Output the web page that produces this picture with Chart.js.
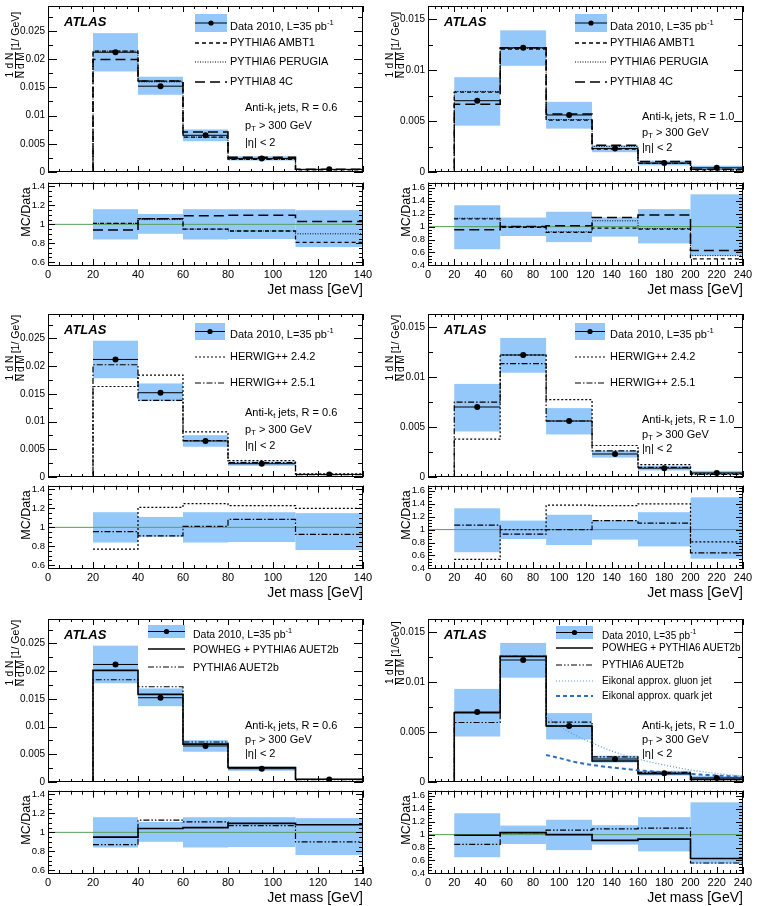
<!DOCTYPE html>
<html>
<head>
<meta charset="utf-8">
<script src="https://cdn.jsdelivr.net/npm/chart.js@4.4.1/dist/chart.umd.min.js"></script>
<style>
  body { margin: 0; background: #fff; width: 759px; height: 906px; position: relative; overflow: hidden;
         font-family: "Liberation Sans", Arial, Helvetica, sans-serif; color: #000; }
  canvas { position: absolute; }
  .t { position: absolute; white-space: nowrap; }
  .atlas { font-weight: bold; font-style: italic; font-size: 13px; }
  .ytit { position: absolute; width: 110px; height: 24px; display: flex; align-items: center; justify-content: center;
          font-size: 10.5px; transform: rotate(-90deg); white-space: nowrap; }
  .frac { display: inline-flex; flex-direction: column; align-items: center; line-height: 10px; margin-right: 2px; font-size: 10px; }
  .den { border-top: 1px solid #000; }
  .rtit { position: absolute; width: 80px; height: 14px; text-align: center; font-size: 12.5px; line-height: 14px;
          transform: rotate(-90deg); white-space: nowrap; }
  .xtit { position: absolute; width: 200px; text-align: right; font-size: 14px; line-height: 16px; }
  sub { font-size: 70%; vertical-align: -2px; }
  sup { font-size: 70%; vertical-align: 5px; }
</style>
</head>
<body>
<script>
// ---- binning ----
const edges06 = [20, 40, 60, 80, 110, 140];
const edges10 = [20, 55, 90, 125, 160, 200, 240];

// ---- data 2010 (1/N dN/dM) and relative uncertainty band ----
const data06 = [0.0212, 0.0152, 0.0065, 0.0024, 0.00047];
const errUp06 = [0.16, 0.11, 0.16, 0.16, 0.15];
const errDn06 = [0.16, 0.10, 0.16, 0.155, 0.24];
const data10 = [0.0070, 0.0122, 0.0056, 0.0023, 0.00088, 0.00041];
const errUp10 = [0.33, 0.14, 0.23, 0.145, 0.27, 0.50];
const errDn10 = [0.35, 0.145, 0.24, 0.155, 0.26, 0.45];

// ---- MC / Data ratios ----
const ambt1_06 = [1.01, 1.06, 0.95, 0.93, 0.81];
const perugia_06 = [1.01, 1.05, 0.95, 0.93, 0.90];
const py8_06 = [0.94, 1.06, 1.09, 1.095, 1.03];
const ambt1_10 = [1.12, 0.99, 0.91, 0.975, 0.96, 0.50];
const perugia_10 = [1.13, 0.995, 0.92, 1.09, 0.97, 0.55];
const py8_10 = [0.95, 1.0, 1.015, 1.14, 1.18, 0.63];
const hw242_06 = [0.77, 1.21, 1.25, 1.23, 1.20];
const hw251_06 = [0.955, 0.91, 1.01, 1.085, 0.925];
const hw242_10 = [0.54, 1.0, 1.38, 1.37, 1.40, 0.81];
const hw251_10 = [1.07, 0.93, 1.0, 1.14, 1.10, 0.64];
const powheg_06 = [0.95, 1.04, 1.05, 1.095, 1.08];
const auet2b_06 = [0.87, 1.13, 1.11, 1.07, 0.90];
const powheg_10 = [0.99, 1.03, 1.0, 0.91, 0.93, 0.63];
const auet2b_10 = [0.85, 1.03, 1.07, 1.09, 1.10, 0.56];

// ---- eikonal approximation curves (R = 1.0) ----
const eikMass = [90, 100, 112, 125, 140, 160, 180, 200, 220, 240];
const gluonVal = [0.0066, 0.0056, 0.0047, 0.0039, 0.0031, 0.0023, 0.0017, 0.0012, 0.00085, 0.0006];
const quarkVal = [0.0027, 0.0024, 0.0020, 0.0017, 0.00146, 0.00118, 0.00097, 0.0008, 0.00065, 0.00052];

// ---- tick labels ----
const xTicks06 = [0, 20, 40, 60, 80, 100, 120, 140];
const xTicks10 = [0, 20, 40, 60, 80, 100, 120, 140, 160, 180, 200, 220, 240];
const yTicks06 = [0, 0.005, 0.01, 0.015, 0.02, 0.025];
const yTicks10 = [0, 0.005, 0.01, 0.015];
const rTicks06 = [0.6, 0.8, 1, 1.2, 1.4];
const rTicks10 = [0.4, 0.6, 0.8, 1, 1.2, 1.4, 1.6];

const BAND = 'rgb(148,200,250)';

const R06 = { label: '0.6', edges: edges06, data: data06, up: errUp06, dn: errDn06, xMax: 140, xTicks: xTicks06,
  yMax: 0.0294, yTicks: yTicks06, rMin: 0.56, rMax: 1.44, rTicks: rTicks06 };
const R10 = { label: '1.0', edges: edges10, data: data10, up: errUp10, dn: errDn10, xMax: 240, xTicks: xTicks10,
  yMax: 0.0163, yTicks: yTicks10, rMin: 0.39, rMax: 1.68, rTicks: rTicks10 };

const STY = {
  ambt1: { dash: [4, 3], width: 1.3 },
  perugia: { dash: [1, 1.5], width: 1 },
  py8: { dash: [10, 5], width: 1.5 },
  hw242: { dash: [2, 2], width: 1.2 },
  hw251: { dash: [6, 2, 1.5, 2], width: 1.2 },
  powheg: { dash: [], width: 1.6 },
  auet2b: { dash: [6, 2, 1.5, 2, 1.5, 2], width: 1.2 },
  gluon: { dash: [1, 2], width: 1.2, color: '#5b9bd5' },
  quark: { dash: [4, 3], width: 2, color: '#2a6fbd' }
};

const mainRows = [[5, 173], [313, 478], [618, 783]];
const ratioRows = [[182, 266], [485, 569], [790, 874]];
const colLeft = [48, 428];
const plotW = 315;

const panels = [
  { set: R06, col: 0, row: 0,
    models: [{ label: 'PYTHIA6 AMBT1', ratio: ambt1_06, s: STY.ambt1 },
             { label: 'PYTHIA6 PERUGIA', ratio: perugia_06, s: STY.perugia },
             { label: 'PYTHIA8 4C', ratio: py8_06, s: STY.py8 }],
    legend: { box: 195, w: 32, h: 18, text: 230, rows: [23, 43, 62, 82], size: 11 },
    note: { left: 245, rows: [108, 126, 143] }, unit: '[1/ GeV]' },
  { set: R10, col: 1, row: 0,
    models: [{ label: 'PYTHIA6 AMBT1', ratio: ambt1_10, s: STY.ambt1 },
             { label: 'PYTHIA6 PERUGIA', ratio: perugia_10, s: STY.perugia },
             { label: 'PYTHIA8 4C', ratio: py8_10, s: STY.py8 }],
    legend: { box: 575, w: 32, h: 18, text: 610, rows: [23, 43, 62, 82], size: 11 },
    note: { left: 642, rows: [117, 133, 148] }, unit: '[1/ GeV]' },
  { set: R06, col: 0, row: 1,
    models: [{ label: 'HERWIG++ 2.4.2', ratio: hw242_06, s: STY.hw242 },
             { label: 'HERWIG++ 2.5.1', ratio: hw251_06, s: STY.hw251 }],
    legend: { box: 195, w: 30, h: 17, text: 230, rows: [331, 357, 383], size: 11 },
    note: { left: 245, rows: [413, 430, 446] }, unit: '[1/ GeV]' },
  { set: R10, col: 1, row: 1,
    models: [{ label: 'HERWIG++ 2.4.2', ratio: hw242_10, s: STY.hw242 },
             { label: 'HERWIG++ 2.5.1', ratio: hw251_10, s: STY.hw251 }],
    legend: { box: 575, w: 30, h: 17, text: 610, rows: [331, 357, 383], size: 11 },
    note: { left: 642, rows: [420, 435, 449] }, unit: '[1/ GeV]' },
  { set: R06, col: 0, row: 2,
    models: [{ label: 'POWHEG + PYTHIA6 AUET2b', ratio: powheg_06, s: STY.powheg },
             { label: 'PYTHIA6 AUET2b', ratio: auet2b_06, s: STY.auet2b }],
    legend: { box: 148, w: 37, h: 13, text: 193, rows: [631, 649, 667], size: 10.5 },
    note: { left: 245, rows: [726, 740, 754] }, unit: '[1/ GeV]' },
  { set: R10, col: 1, row: 2,
    models: [{ label: 'POWHEG + PYTHIA6 AUET2b', ratio: powheg_10, s: STY.powheg },
             { label: 'PYTHIA6 AUET2b', ratio: auet2b_10, s: STY.auet2b }],
    curves: [{ label: 'Eikonal approx. gluon jet', x: eikMass, y: gluonVal, s: STY.gluon },
             { label: 'Eikonal approx. quark jet', x: eikMass, y: quarkVal, s: STY.quark }],
    legend: { box: 556, w: 37, h: 13, text: 602, rows: [632, 648, 665, 681, 696], size: 10 },
    note: { left: 642, rows: [726, 740, 754] }, unit: '[1/GeV]' }
];

Chart.defaults.font.family = '"Liberation Sans", Arial, Helvetica, sans-serif';
Chart.defaults.color = '#000';

function steps(min, max, step) {
  const out = [];
  const i0 = Math.ceil(min / step - 1e-9), i1 = Math.floor(max / step + 1e-9);
  for (let i = i0; i <= i1; i++) out.push(i * step);
  return out;
}

function bandPlugin(edges, lo, hi) {
  return {
    id: 'band',
    beforeDatasetsDraw(chart) {
      const { ctx, chartArea: a, scales: { x, y } } = chart;
      ctx.save();
      ctx.beginPath(); ctx.rect(a.left, a.top, a.right - a.left, a.bottom - a.top); ctx.clip();
      ctx.fillStyle = BAND;
      lo.forEach((l, i) => {
        const x0 = x.getPixelForValue(edges[i]), x1 = x.getPixelForValue(edges[i + 1]);
        const y0 = y.getPixelForValue(hi[i]), y1 = y.getPixelForValue(l);
        ctx.fillRect(x0, y0, x1 - x0, y1 - y0);
      });
      ctx.restore();
    }
  };
}

function framePlugin(xMajor, yMajor, xMinor, yMinor, xLen, yLen) {
  return {
    id: 'frame',
    afterDatasetsDraw(chart) {
      const { ctx, chartArea: a, scales: { x, y } } = chart;
      ctx.save();
      ctx.strokeStyle = '#000'; ctx.lineWidth = 1;
      ctx.beginPath();
      const vt = (v, len) => {
        const p = Math.round(x.getPixelForValue(v)) + 0.5;
        ctx.moveTo(p, a.bottom); ctx.lineTo(p, a.bottom - len);
        ctx.moveTo(p, a.top); ctx.lineTo(p, a.top + len);
      };
      const ht = (v, len) => {
        const p = Math.round(y.getPixelForValue(v)) + 0.5;
        ctx.moveTo(a.left, p); ctx.lineTo(a.left + len, p);
        ctx.moveTo(a.right, p); ctx.lineTo(a.right - len, p);
      };
      steps(x.min, x.max, xMinor).forEach(v => vt(v, xLen[1]));
      xMajor.forEach(v => vt(v, xLen[0]));
      steps(y.min, y.max, yMinor).forEach(v => ht(v, yLen[1]));
      yMajor.forEach(v => ht(v, yLen[0]));
      ctx.stroke();
      ctx.strokeRect(Math.round(a.left) + 0.5, Math.round(a.top) + 0.5,
                     Math.round(a.right - a.left) - 1, Math.round(a.bottom - a.top) - 1);
      ctx.restore();
    }
  };
}

function stepPoints(edges, vals, fromZero) {
  const pts = fromZero ? [{ x: 0, y: 0 }] : [];
  vals.forEach((v, i) => pts.push({ x: edges[i], y: v }));
  pts.push({ x: edges[edges.length - 1], y: vals[vals.length - 1] });
  return pts;
}

function xErrPoints(edges, vals) {
  const pts = [];
  vals.forEach((v, i) => pts.push({ x: edges[i], y: v }, { x: edges[i + 1], y: v }, { x: edges[i + 1], y: null }));
  return pts;
}

const fmt = v => String(parseFloat(Number(v).toFixed(4)));

function histDs(pts, s) {
  return { data: pts, showLine: true, stepped: true, pointRadius: 0, borderColor: s.color || '#000',
           borderWidth: s.width, borderDash: s.dash, fill: false };
}

function addCanvas(left, top, w, h) {
  const c = document.createElement('canvas');
  c.width = w; c.height = h;
  c.style.left = left + 'px'; c.style.top = top + 'px';
  c.style.width = w + 'px'; c.style.height = h + 'px';
  document.body.appendChild(c);
  return c;
}

function addText(html, left, cy, size, cls) {
  const d = document.createElement('div');
  d.className = 't' + (cls ? ' ' + cls : '');
  d.style.left = left + 'px';
  d.style.top = (cy - size * 0.6) + 'px';
  d.style.fontSize = size + 'px';
  d.style.lineHeight = (size * 1.2) + 'px';
  d.innerHTML = html;
  document.body.appendChild(d);
  return d;
}

function lineSample(left, cy, w, s) {
  const svg = document.createElementNS('http://www.w3.org/2000/svg', 'svg');
  svg.setAttribute('width', w); svg.setAttribute('height', 6);
  svg.style.position = 'absolute'; svg.style.left = left + 'px'; svg.style.top = (cy - 3) + 'px';
  const ln = document.createElementNS('http://www.w3.org/2000/svg', 'line');
  ln.setAttribute('x1', 0); ln.setAttribute('x2', w); ln.setAttribute('y1', 3); ln.setAttribute('y2', 3);
  ln.setAttribute('stroke', s.color || '#000'); ln.setAttribute('stroke-width', s.width);
  if (s.dash.length) ln.setAttribute('stroke-dasharray', s.dash.join(','));
  svg.appendChild(ln);
  document.body.appendChild(svg);
}

function dataSample(left, cy, w, h) {
  const svg = document.createElementNS('http://www.w3.org/2000/svg', 'svg');
  svg.setAttribute('width', w); svg.setAttribute('height', h);
  svg.style.position = 'absolute'; svg.style.left = left + 'px'; svg.style.top = (cy - h / 2) + 'px';
  svg.innerHTML = '<rect x="0" y="0" width="' + w + '" height="' + h + '" fill="' + BAND + '"/>' +
    '<line x1="0" x2="' + w + '" y1="' + h / 2 + '" y2="' + h / 2 + '" stroke="#000" stroke-width="1"/>' +
    '<circle cx="' + w / 2 + '" cy="' + h / 2 + '" r="2.6" fill="#000"/>';
  document.body.appendChild(svg);
}

const noGrid = { display: false, drawTicks: false };

panels.forEach(p => {
  const S = p.set;
  const left = colLeft[p.col];
  const [mTop, mBot] = mainRows[p.row];
  const [rTop, rBot] = ratioRows[p.row];
  const yW = 48;
  const lo = S.data.map((v, i) => v * (1 - S.dn[i]));
  const hi = S.data.map((v, i) => v * (1 + S.up[i]));
  const rLo = S.dn.map(e => 1 - e);
  const rHi = S.up.map(e => 1 + e);

  // ---- main panel ----
  const mainDs = [
    { data: S.data.map((v, i) => ({ x: (S.edges[i] + S.edges[i + 1]) / 2, y: v })), showLine: false,
      pointRadius: 3, pointBackgroundColor: '#000', pointBorderColor: '#000', pointBorderWidth: 0 },
    { data: xErrPoints(S.edges, S.data), showLine: true, spanGaps: false, pointRadius: 0, borderColor: '#000', borderWidth: 1 }
  ];
  (p.curves || []).forEach(c => {
    mainDs.push({ data: c.x.map((m, i) => ({ x: m, y: c.y[i] })), showLine: true, pointRadius: 0,
      borderColor: c.s.color, borderWidth: c.s.width, borderDash: c.s.dash, cubicInterpolationMode: 'monotone' });
  });
  p.models.forEach(m => mainDs.push(histDs(stepPoints(S.edges, S.data.map((v, i) => v * m.ratio[i]), true), m.s)));

  const padT = 8, padR = 14, padB = 8;
  const mc = addCanvas(left - yW, mTop - padT, yW + plotW + padR, padT + (mBot - mTop) + padB);
  new Chart(mc, {
    type: 'scatter',
    data: { datasets: mainDs },
    options: {
      responsive: false, animation: false, devicePixelRatio: 1, events: [],
      layout: { padding: { top: padT, right: padR, bottom: padB, left: 0 } },
      plugins: { legend: { display: false }, tooltip: { enabled: false } },
      scales: {
        x: { type: 'linear', min: 0, max: S.xMax, display: false },
        y: { type: 'linear', min: 0, max: S.yMax,
             afterBuildTicks: s => { s.ticks = S.yTicks.map(v => ({ value: v })); },
             afterFit: s => { s.width = yW; },
             grid: noGrid, border: { display: false },
             ticks: { font: { size: 10 }, padding: 3, autoSkip: false, callback: v => fmt(v) } }
      }
    },
    plugins: [bandPlugin(S.edges, lo, hi), framePlugin(S.xTicks, S.yTicks, 5, 0.0025, [6, 3], [9, 5])]
  });

  // ---- ratio panel ----
  const ratioDs = p.models.map(m => histDs(stepPoints(S.edges, m.ratio, false), m.s));
  ratioDs.push({ data: [{ x: 0, y: 1 }, { x: S.xMax, y: 1 }], showLine: true, pointRadius: 0,
                 borderColor: '#5a9e5a', borderWidth: 1 });
  const xH = 16;
  const rc = addCanvas(left - yW, rTop - padT, yW + plotW + padR, padT + (rBot - rTop) + xH);
  new Chart(rc, {
    type: 'scatter',
    data: { datasets: ratioDs },
    options: {
      responsive: false, animation: false, devicePixelRatio: 1, events: [],
      layout: { padding: { top: padT, right: padR, bottom: 0, left: 0 } },
      plugins: { legend: { display: false }, tooltip: { enabled: false } },
      scales: {
        x: { type: 'linear', min: 0, max: S.xMax,
             afterBuildTicks: s => { s.ticks = S.xTicks.map(v => ({ value: v })); },
             afterFit: s => { s.height = xH; },
             grid: noGrid, border: { display: false },
             ticks: { font: { size: 11 }, padding: 2, autoSkip: false, maxRotation: 0, callback: v => fmt(v) } },
        y: { type: 'linear', min: S.rMin, max: S.rMax,
             afterBuildTicks: s => { s.ticks = S.rTicks.map(v => ({ value: v })); },
             afterFit: s => { s.width = yW; },
             grid: noGrid, border: { display: false },
             ticks: { font: { size: 9.5 }, padding: 3, autoSkip: false, callback: v => fmt(v) } }
      }
    },
    plugins: [bandPlugin(S.edges, rLo, rHi), framePlugin(S.xTicks, S.rTicks, 5, 0.05, [7, 4], [7, 4])]
  });

  // ---- texts ----
  const off = p.col ? 380 : 0;
  const mMid = mTop + (p.row === 0 ? 40 : 35);
  const yt = document.createElement('div');
  yt.className = 'ytit';
  yt.innerHTML = '<span class="frac"><span>1</span><span class="den">N</span></span>' +
                 '<span class="frac"><span>d N</span><span class="den">d M</span></span>' +
                 '<span>' + p.unit + '</span>';
  yt.style.left = (off + 15 - 55) + 'px';
  yt.style.top = (mMid - 12) + 'px';
  document.body.appendChild(yt);

  const rt = document.createElement('div');
  rt.className = 'rtit';
  rt.textContent = 'MC/Data';
  rt.style.left = (off + 26 - 40) + 'px';
  rt.style.top = (rTop + 30 - 7) + 'px';
  document.body.appendChild(rt);

  const xt = document.createElement('div');
  xt.className = 'xtit';
  xt.textContent = 'Jet mass [GeV]';
  xt.style.left = (left + plotW - 200) + 'px';
  xt.style.top = (rBot + 15) + 'px';
  document.body.appendChild(xt);

  addText('ATLAS', off + 64, mTop + 17, 13, 'atlas');

  const L = p.legend;
  dataSample(L.box, L.rows[0], L.w, L.h);
  addText('Data 2010, L=35 pb<sup>-1</sup>', L.text, L.rows[0], L.size);
  const entries = p.models.concat(p.curves || []);
  entries.forEach((m, i) => {
    lineSample(L.box, L.rows[i + 1], L.w, m.s);
    addText(m.label, L.text, L.rows[i + 1], L.size);
  });

  const N = p.note;
  addText('Anti-k<sub>t</sub> jets, R = ' + S.label, N.left, N.rows[0], 11);
  addText('p<sub>T</sub> &gt; 300 GeV', N.left, N.rows[1], 11);
  addText('|&eta;| &lt; 2', N.left, N.rows[2], 11);
});
</script>
</body>
</html>
